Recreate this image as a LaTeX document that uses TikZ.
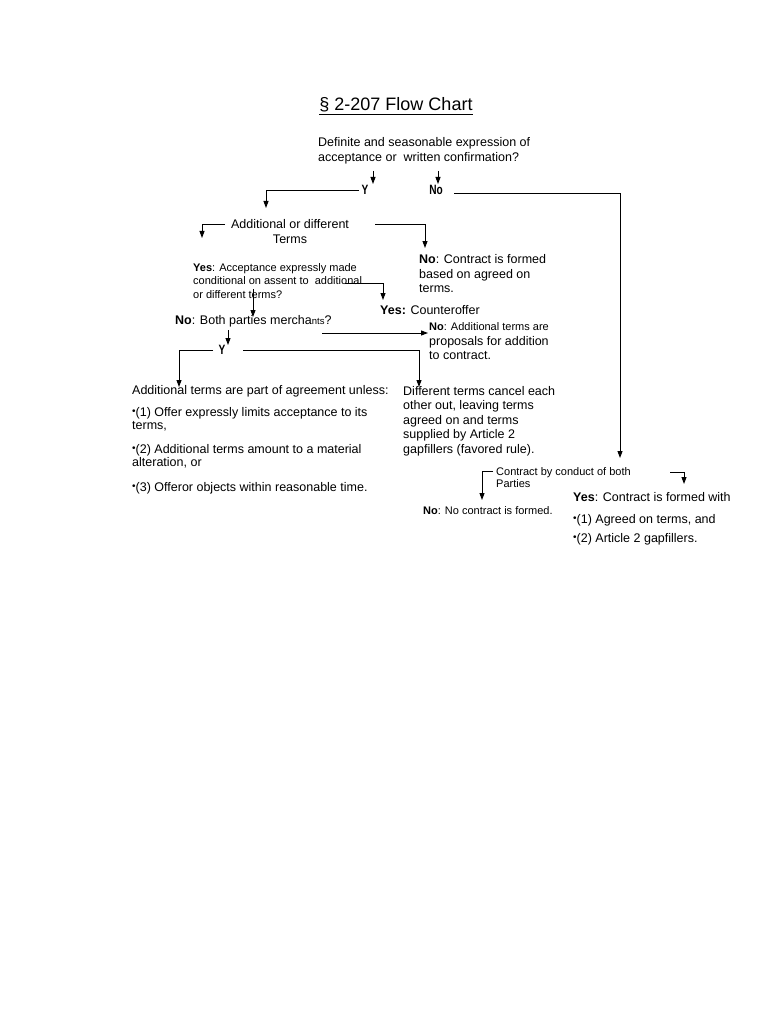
\documentclass[tikz,border=0pt]{standalone}
\usepackage{fontspec}
\setmainfont{Liberation Sans}
\usetikzlibrary{arrows.meta}
\newcommand{\yn}[1]{\scalebox{0.75}[1]{\fontsize{13.5}{13.5}\selectfont\bfseries #1}}
\newcommand{\bul}{{\fontsize{10}{10}\selectfont\raisebox{2pt}{•}}}
\begin{document}
\begin{tikzpicture}[x=1pt,y=-1pt,
  txt/.style={inner sep=0pt,anchor=base west,align=left,font=\fontsize{12.5}{14.6}\selectfont},
  sml/.style={inner sep=0pt,anchor=base west,align=left,font=\fontsize{11}{13.4}\selectfont},
  conn/.style={line width=0.9pt,-{Triangle[length=7pt,width=5pt]}},
  plain/.style={line width=0.9pt}]
\fill[white] (0,0) rectangle (768,1024);
\useasboundingbox (0,0) rectangle (768,1024);

% multi-line nodes are placed by the baseline of their last line
\node[inner sep=0pt,anchor=base,font=\fontsize{18}{20}\selectfont] (title) at (396,111) {\underline{§ 2-207 Flow Chart}};

\node[txt] (def) at (318,161.6) {Definite and seasonable expression of\\acceptance or\ \ written confirmation?};

\node[inner sep=0pt,anchor=base] (Y1) at (365,194.5) {\yn{Y}};
\node[inner sep=0pt,anchor=base] (No1) at (436,195) {\yn{No}};

\node[txt,anchor=base,align=center] (add) at (290,243.1) {Additional or different\\Terms};
\node[txt] (noform) at (419,292.7) {\textbf{No}: Contract is formed\\based on agreed on\\terms.};
\node[sml] (yesacc) at (193,298.3) {\textbf{Yes}: Acceptance expressly made\\conditional on assent to\ \ additional\\or different terms?};
\node[txt] (counter) at (380,314.5) {\textbf{Yes:} Counteroffer};
\node[txt] (merch) at (175,324.5) {\textbf{No}: Both parties mercha{\fontsize{9.5}{10}\selectfont nts}?};
\node[inner sep=0pt,anchor=base] (Y2) at (222,354) {\yn{Y}};
\node[sml] (noadd) at (429,330) {\textbf{No}: Additional terms are};
\node[txt] (prop) at (429,359.6) {proposals for addition\\to contract.};

\node[txt,font=\fontsize{12.5}{13.6}\selectfont] (part) at (132,491) {Additional terms are part of agreement unless:\\[8pt]
\bul(1) Offer expressly limits acceptance to its\\terms,\\[10pt]
\bul(2) Additional terms amount to a material\\alteration, or\\[10.6pt]
\bul(3) Offeror objects within reasonable time.};

\node[txt,font=\fontsize{12.5}{14.5}\selectfont] (cancel) at (403,453) {Different terms cancel each\\other out, leaving terms\\agreed on and terms\\supplied by Article 2\\gapfillers (favored rule).};

\node[sml,font=\fontsize{11}{12.5}\selectfont] (conduct) at (496,487.5) {Contract by conduct of both\\Parties};
\node[sml] (nocon) at (423,514) {\textbf{No}: No contract is formed.};
\node[txt] (yescon) at (573,542) {\textbf{Yes}: Contract is formed with\\[7.4pt]
\bul(1) Agreed on terms, and\\[4.4pt]
\bul(2) Article 2 gapfillers.};

% coordinates
\coordinate (a1) at (373,171); \coordinate (a2) at (373,184);
\coordinate (b1) at (438,171); \coordinate (b2) at (438,184);
\coordinate (c1) at (359,190); \coordinate (c2) at (266,208);
\coordinate (d1) at (454,193); \coordinate (d2) at (620,458);
\coordinate (e1) at (225,224); \coordinate (e2) at (202,238);
\coordinate (f1) at (375,224); \coordinate (f2) at (425,248);
\coordinate (g1) at (345,283); \coordinate (g2) at (383,300);
\coordinate (h1) at (253,289); \coordinate (h2) at (253,317);
\coordinate (i1) at (228,330); \coordinate (i2) at (228,345);
\coordinate (j1) at (213,350); \coordinate (j2) at (179,387);
\coordinate (k1) at (243,350); \coordinate (k2) at (419,387);
\coordinate (l1) at (322,333); \coordinate (l2) at (428,333);
\coordinate (m1) at (493,471); \coordinate (m2) at (482,500);
\coordinate (n1) at (670,472); \coordinate (n2) at (684,484);

\draw[conn] (a1) -- (a2);
\draw[conn] (b1) -- (b2);
\draw[conn] (c1) -| (c2);
\draw[conn] (d1) -| (d2);
\draw[conn] (e1) -| (e2);
\draw[conn] (f1) -| (f2);
\draw[conn] (g1) -| (g2);
\draw[conn] (h1) -- (h2);
\draw[conn] (i1) -- (i2);
\draw[conn] (j1) -| (j2);
\draw[conn] (k1) -| (k2);
\draw[conn] (l1) -- (l2);
\draw[conn] (m1) -| (m2);
\draw[conn] (n1) -| (n2);
\end{tikzpicture}
\end{document}
